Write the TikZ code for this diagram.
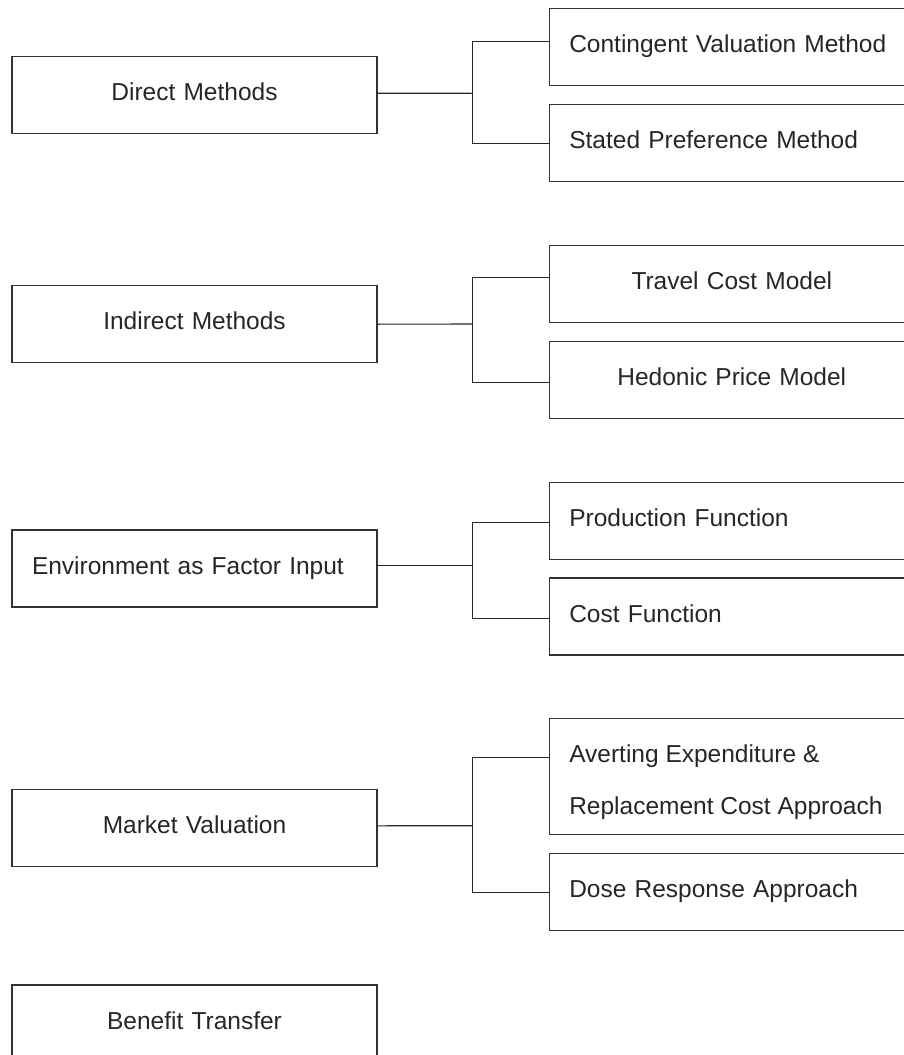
\documentclass[tikz,border=0pt]{standalone}
\usepackage{fontspec}
\setmainfont{Liberation Sans}
\begin{document}
\begin{tikzpicture}[x=1pt,y=-1pt,
  boxbase/.style={draw=black!80, line width=1.1pt, rectangle, anchor=north west,
    minimum width=365pt, minimum height=77pt, inner xsep=20pt, inner ysep=0pt,
    outer sep=0pt, font=\fontsize{24.5}{29}\selectfont, text=black!85},
  box/.style={boxbase, text width=325pt, text height=18pt, text depth=7pt},
  lbox/.style={box, align=left},
  cbox/.style={box, align=center},
  conn/.style={draw=black!85, line width=1.1pt}]
\useasboundingbox (0,0) rectangle (904,1055);
\clip (0,0) rectangle (904,1055);

% left column
\node[cbox] (dm) at (12,56.7) {Direct Methods};
\node[cbox] (im) at (12,285.7) {Indirect Methods};
\node[lbox] (ef) at (12,530) {Environment as Factor Input};
\node[cbox] (mv) at (12,789.3) {Market Valuation};
\node[cbox] (bt) at (12,985) {Benefit Transfer};

% right column
\node[lbox] (cvm) at (549.3,8.3) {Contingent Valuation Method};
\node[lbox] (spm) at (549.3,104.7) {Stated Preference Method};
\node[cbox] (tcm) at (549.3,245.3) {Travel Cost Model};
\node[cbox] (hpm) at (549.3,341.7) {Hedonic Price Model};
\node[lbox] (pf) at (549.3,482.3) {Production Function};
\node[lbox] (cf) at (549.3,578) {Cost Function};
\node[boxbase, minimum height=116.4pt, text height=18pt, text depth=47pt] (ae) at (549.3,718.3)
  {\vtop{\baselineskip=52pt\hbox to 325pt{Averting Expenditure \&\hfil}\hbox to 325pt{Replacement Cost Approach\hfil}}};
\node[lbox] (dr) at (549.3,853.7) {Dose Response Approach};

% junctions
\coordinate (j1) at (472.3,93.3);
\coordinate (j2) at (472.3,324);
\coordinate (j3) at (472.3,565.7);
\coordinate (j4) at (472.3,825.7);

% connectors
\draw[conn] ([yshift=2pt]dm.east) -- (j1);
\draw[conn] ([yshift=5.3pt]cvm.west) -| (j1) |- (spm.west);

\draw[conn] (im.east) -- (j2);
\draw[conn] ([yshift=6.5pt]tcm.west) -| (j2) |- ([yshift=-2.1pt]hpm.west);

\draw[conn] ([yshift=2.8pt]ef.east) -- (j3);
\draw[conn] ([yshift=-1.5pt]pf.west) -| (j3) |- ([yshift=-1.8pt]cf.west);

\draw[conn] ([yshift=2pt]mv.east) -- (j4);
\draw[conn] ([yshift=19.2pt]ae.west) -| (j4) |- (dr.west);
\end{tikzpicture}
\end{document}
